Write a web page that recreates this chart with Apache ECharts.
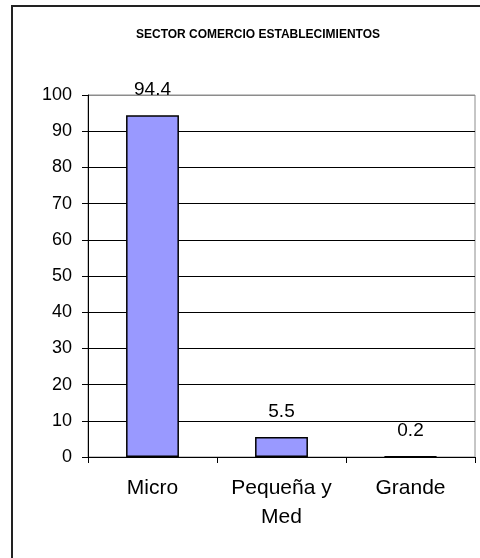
<!DOCTYPE html>
<html>
<head>
<meta charset="utf-8">
<script src="https://cdn.jsdelivr.net/npm/echarts@6/dist/echarts.min.js"></script>
<style>
  html, body { margin: 0; padding: 0; background: #fff; }
  #chart { width: 480px; height: 558px; }
</style>
</head>
<body>
<div id="chart"></div>
<script>
// Share of commerce establishments by size (%)
const titleText = 'SECTOR COMERCIO ESTABLECIMIENTOS';
const categories = ['Micro', 'Pequeña y\nMed', 'Grande'];
const values = [94.4, 5.5, 0.2];
const yMin = 0;
const yMax = 100;
const yStep = 10;

const FONT = '"Liberation Sans", Arial, sans-serif';

// grid lines: black inside, grey along the top edge of the plot
const splitColors = [];
for (let v = yMin; v <= yMax; v += yStep) splitColors.push(v === yMax ? '#8c8c8c' : '#000');

const chart = echarts.init(document.getElementById('chart'), null, { renderer: 'canvas' });
chart.setOption({
  animation: false,
  backgroundColor: '#fff',
  title: {
    text: titleText,
    left: 253,
    top: 24,
    textAlign: 'center',
    textStyle: { fontFamily: FONT, fontSize: 12, fontWeight: 'bold', color: '#000' }
  },
  graphic: [{
    type: 'rect',
    shape: { x: 12, y: 6, width: 500, height: 600 },
    style: { fill: 'none', stroke: '#222', lineWidth: 2 },
    silent: true
  }],
  grid: {
    left: 88, right: 5, top: 95, bottom: 101,
    show: true, borderColor: '#8c8c8c', borderWidth: 1, backgroundColor: 'transparent'
  },
  xAxis: {
    type: 'category',
    data: categories,
    boundaryGap: true,
    axisLine: { show: true, lineStyle: { color: '#000', width: 1 } },
    axisTick: { show: true, interval: 0, length: 6, lineStyle: { color: '#000' } },
    axisLabel: {
      interval: 0, margin: 17, color: '#000',
      fontFamily: FONT, fontSize: 21, lineHeight: 29
    }
  },
  yAxis: {
    type: 'value',
    min: yMin, max: yMax, interval: yStep,
    axisLine: { show: true, lineStyle: { color: '#000', width: 1 } },
    axisTick: { show: true, length: 6, lineStyle: { color: '#000' } },
    axisLabel: { margin: 16, color: '#000', fontFamily: FONT, fontSize: 18 },
    splitLine: { show: true, lineStyle: { color: splitColors, width: 1 } }
  },
  series: [{
    type: 'bar',
    data: values,
    barWidth: '41%',
    itemStyle: { color: '#9999ff', borderColor: '#000', borderWidth: 1.5 },
    label: {
      show: true, position: 'top', distance: 16,
      color: '#000', fontFamily: FONT, fontSize: 19
    }
  }]
});
</script>
</body>
</html>
